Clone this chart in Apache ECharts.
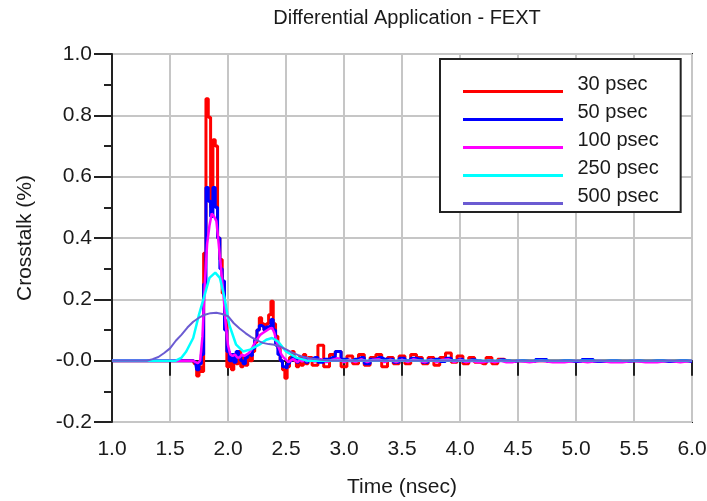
<!DOCTYPE html>
<html>
<head>
<meta charset="utf-8">
<script src="https://cdn.jsdelivr.net/npm/echarts@6/dist/echarts.min.js"></script>
<style>
  html, body { margin: 0; padding: 0; background: #fff; }
  #fext { width: 707px; height: 501px; }
</style>
</head>
<body>
<div id="fext"></div>
<script>
// time samples (nsec) shared by the 30 / 50 / 100 psec traces
var tStep = [1.00, 1.60,
  1.70, 1.72, 1.74, 1.76, 1.78, 1.80, 1.82, 1.84, 1.86, 1.88, 1.90, 1.92, 1.94, 1.96, 1.98,
  2.00, 2.02, 2.04, 2.06, 2.08, 2.10, 2.12, 2.14, 2.16, 2.18, 2.20, 2.22, 2.24, 2.26, 2.28,
  2.30, 2.32, 2.34, 2.36, 2.38, 2.40, 2.42, 2.44, 2.46, 2.48, 2.50, 2.52, 2.54, 2.56, 2.58,
  2.60, 2.62, 2.64, 2.66, 2.68, 2.70,
  2.75, 2.80, 2.85, 2.90, 2.95, 3.00, 3.05, 3.10, 3.15, 3.20, 3.25, 3.30, 3.35, 3.40, 3.45,
  3.50, 3.55, 3.60, 3.65, 3.70, 3.75, 3.80, 3.85, 3.90, 3.95, 4.00, 4.05, 4.10, 4.15, 4.20,
  4.25, 4.30, 4.35, 4.40, 4.45, 4.50,
  4.60, 4.70, 4.80, 4.90, 5.00, 5.10, 5.20, 5.30, 5.40, 5.50, 5.60, 5.70, 5.80, 5.90, 6.00];

var red30 = [0, 0,
  0.00, -0.01, -0.05, -0.02, -0.035, 0.35, 0.854, 0.794, 0.50, 0.72, 0.70, 0.40, 0.33, 0.22, 0.13,
  -0.02, 0.01, -0.03, 0.02, -0.01, 0.03, -0.02, 0.01, -0.015, 0.02, 0.00, 0.03, 0.06, 0.10, 0.14,
  0.12, 0.10, 0.12, 0.15, 0.194, 0.12, 0.08, 0.04, 0.00, -0.03, -0.057, -0.02, 0.01, 0.03, 0.00,
  -0.02, 0.01, -0.015, 0.02, -0.01, 0.01,
  -0.015, 0.05, -0.02, 0.02, 0.03, -0.02, 0.015, -0.01, 0.02, -0.015, 0.01, 0.02, -0.02, 0.01, -0.01,
  0.015, -0.01, 0.02, 0.01, -0.01, 0.01, -0.015, 0.01, 0.025, -0.005, 0.015, -0.01, 0.01, -0.005, -0.01,
  0.01, -0.01, 0.005, 0, 0, 0,
  0, 0, 0, 0, 0, 0, 0, 0, 0, 0, 0, 0, 0, 0, 0];

var blue50 = [0, 0,
  0.00, -0.005, -0.03, -0.01, 0.02, 0.25, 0.565, 0.52, 0.47, 0.565, 0.50, 0.40, 0.30, 0.26, 0.10,
  0.03, 0.00, 0.02, -0.005, 0.03, 0.015, 0.00, -0.01, 0.01, 0.02, 0.015, 0.04, 0.07, 0.10, 0.115,
  0.11, 0.10, 0.11, 0.115, 0.134, 0.10, 0.05, 0.02, 0.00, -0.02, -0.025, -0.01, 0.00, 0.01, 0.005,
  -0.005, 0.005, 0.00, 0.01, -0.005, 0.005,
  0.01, -0.005, 0.005, 0.01, 0.03, 0.005, 0.0, 0.005, 0.01, -0.01, 0.005, 0.01, 0.005, 0.005, -0.005,
  0.008, 0.0, 0.008, 0.005, -0.005, 0.003, 0.005, -0.003, 0.008, 0.0, 0.005, -0.003, 0.003, 0.0, -0.003,
  0.0, -0.003, 0.003, 0.0, -0.003, 0.0,
  -0.003, 0.004, -0.003, 0.0, -0.003, 0.004, -0.003, 0.0, -0.003, 0.0, -0.003, 0.0, -0.003, 0.0, -0.003];

var magenta100 = [0, 0,
  0.00, -0.005, -0.008, 0.00, 0.08, 0.25, 0.38, 0.44, 0.48, 0.47, 0.455, 0.38, 0.30, 0.22, 0.12,
  0.05, 0.02, 0.015, 0.02, 0.01, 0.01, 0.02, 0.015, 0.02, 0.025, 0.035, 0.05, 0.065, 0.075, 0.085,
  0.09, 0.095, 0.10, 0.105, 0.107, 0.09, 0.06, 0.04, 0.02, 0.01, 0.003, -0.005, 0.00, 0.005, 0.00,
  -0.005, 0.003, -0.003, 0.005, -0.003, 0.003,
  -0.003, 0.005, -0.005, 0.003, 0.008, -0.005, 0.003, -0.005, 0.005, -0.005, 0.003, 0.005, -0.005, 0.003, -0.005,
  0.003, -0.005, 0.005, 0.0, -0.005, 0.003, -0.005, 0.003, 0.005, -0.005, 0.003, -0.005, 0.0, -0.005, -0.005,
  0.0, -0.005, 0.0, -0.005, -0.005, 0.0,
  -0.005, 0.0, -0.005, -0.005, 0.0, -0.005, 0.0, -0.005, -0.005, 0.0, -0.005, -0.005, 0.0, -0.005, 0.0];

var cyanT = [1.0, 1.55, 1.60, 1.64, 1.70, 1.75, 1.80, 1.84, 1.89, 1.93, 1.97, 2.01, 2.07,
  2.13, 2.19, 2.27, 2.33, 2.38, 2.43, 2.50, 2.59, 2.68, 6.0];
var cyan250 = [0, 0, 0.01, 0.03, 0.074, 0.15, 0.216, 0.27, 0.287, 0.27, 0.205, 0.118, 0.052,
  0.03, 0.036, 0.052, 0.068, 0.074, 0.063, 0.03, 0.01, 0.0, 0];

var purpleT = [1.0, 1.3, 1.35, 1.4, 1.45, 1.5, 1.55, 1.6, 1.65, 1.7, 1.75, 1.8, 1.85, 1.9, 1.95,
  2.0, 2.05, 2.1, 2.15, 2.2, 2.25, 2.3, 2.35, 2.4, 2.45, 2.5, 2.55, 2.6, 2.65, 2.7, 2.8, 2.9, 6.0];
var purple500 = [0, 0, 0.005, 0.012, 0.025, 0.04, 0.065, 0.085, 0.108, 0.127, 0.14, 0.15, 0.155, 0.156, 0.152,
  0.145, 0.122, 0.105, 0.09, 0.077, 0.066, 0.058, 0.054, 0.052, 0.046, 0.037, 0.027, 0.019, 0.012, 0.008, 0.003, 0, 0];

var seriesNames = ['30 psec', '50 psec', '100 psec', '250 psec', '500 psec'];
var yTickLabels = ['-0.2', '-0.0', '0.2', '0.4', '0.6', '0.8', '1.0'];

function pairs(ts, vs) {
  return ts.map(function (t, i) { return [t, vs[i]]; });
}

var fext = echarts.init(document.getElementById('fext'), null, {renderer: 'canvas'});

var font = 'Liberation Sans';
var ink = '#1a1a1a';

var option = {
  animation: false,
  backgroundColor: '#fff',
  title: {
    text: 'Differential Application - FEXT',
    left: 402,
    top: 3,
    textAlign: 'center',
    textStyle: {fontFamily: font, fontSize: 20, fontWeight: 'normal', color: ink}
  },
  legend: {
    orient: 'vertical',
    left: 440,
    top: 59,
    padding: [15, 22, 6, 23],
    itemWidth: 105,
    itemHeight: 18,
    itemGap: 8,
    icon: 'path://M0,0L0,0M0,15L100,15L100,18L0,18Z',
    itemStyle: {borderWidth: 0},
    borderColor: '#222',
    borderWidth: 2,
    backgroundColor: '#fff',
    textStyle: {fontFamily: font, fontSize: 20, color: ink, padding: [0, 0, 0, 7]},
    data: seriesNames
  },
  grid: {
    left: 112, right: 15, top: 54, bottom: 79,
    outerBoundsMode: 'none',
    show: true, borderColor: '#222', borderWidth: 2
  },
  xAxis: {
    type: 'value',
    min: 1, max: 6, interval: 0.5,
    name: 'Time (nsec)',
    nameLocation: 'middle',
    nameGap: 55,
    nameTextStyle: {fontFamily: font, fontSize: 21, color: ink},
    axisLine: {lineStyle: {color: '#222', width: 2}},
    axisTick: {length: 15, lineStyle: {color: '#222', width: 2}},
    axisLabel: {
      margin: 17, fontFamily: font, fontSize: 21, color: ink,
      formatter: function (v) { return v.toFixed(1); }
    },
    splitLine: {lineStyle: {color: '#c6c6c6', width: 2}}
  },
  yAxis: {
    type: 'value',
    min: -0.2, max: 1.0, interval: 0.2,
    name: 'Crosstalk (%)',
    nameLocation: 'middle',
    nameGap: 76,
    nameTextStyle: {fontFamily: font, fontSize: 21, color: ink},
    axisLine: {onZero: false, lineStyle: {color: '#222', width: 2}},
    axisTick: {length: 18, lineStyle: {color: '#222', width: 2}},
    minorTick: {show: true, splitNumber: 2, length: 8, lineStyle: {color: '#222', width: 2}},
    axisLabel: {
      margin: 20, fontFamily: font, fontSize: 21, color: ink,
      formatter: function (v) { return yTickLabels[Math.round((v + 0.2) / 0.2)]; }
    },
    splitLine: {lineStyle: {color: '#c6c6c6', width: 2}}
  },
  series: [
    {name: seriesNames[0], type: 'line', color: '#ff0000', step: 'middle', symbol: 'none',
     lineStyle: {width: 3}, data: pairs(tStep, red30)},
    {name: seriesNames[1], type: 'line', color: '#0000ff', step: 'middle', symbol: 'none',
     lineStyle: {width: 3}, data: pairs(tStep, blue50)},
    {name: seriesNames[2], type: 'line', color: '#ff00ff', symbol: 'none',
     lineStyle: {width: 2.5}, data: pairs(tStep, magenta100)},
    {name: seriesNames[3], type: 'line', color: '#00ffff', symbol: 'none',
     lineStyle: {width: 2.5}, data: pairs(cyanT, cyan250)},
    {name: seriesNames[4], type: 'line', color: '#6b5bd2', symbol: 'none',
     lineStyle: {width: 2}, data: pairs(purpleT, purple500)}
  ]
};

fext.setOption(option);
</script>
</body>
</html>
